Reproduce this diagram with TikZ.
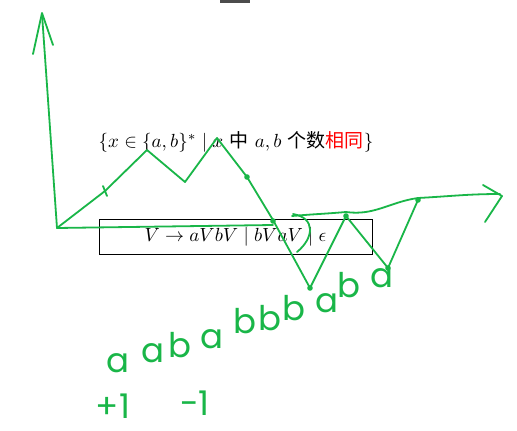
\documentclass[tikz,border=0pt]{standalone}
\usepackage{graphicx}
\usepackage{fontspec}
\newfontfamily\cjk{Noto Sans CJK SC}
\newfontfamily\hand{Poppins}
\definecolor{pen}{RGB}{25,182,72}
\begin{document}
\begin{tikzpicture}[x=1pt,y=-1pt,
  stroke/.style={pen,line width=1.8pt,line cap=round,line join=round},
  handtext/.style={pen,inner sep=0pt,anchor=base,font=\hand\fontsize{34}{34}\selectfont}]
\useasboundingbox[fill=white] (0,0) rectangle (517,431);
\fill[black!70] (220,0) rectangle (250,2.5);
% the language and its grammar
\node (lang) at (236,142) {\scalebox{1.9}{%
  $\{x\in\{a,b\}^*\mid x$ {\cjk 中} $a,b$ {\cjk 个数\textcolor{red}{相同}}$\}$}};
\node[draw,thick,minimum width=273pt,minimum height=35pt,inner sep=0pt] (gram) at (235.5,237)
  {\scalebox{1.9}{$V\to aVbV\mid bVaV\mid\epsilon$}};
% axes
\coordinate (o) at (57,228);
\draw[stroke] (o) -- (42,14);
\draw[stroke] (33,54) -- (42,13) -- (53,45);
\draw[stroke] (o) -- (273,225);
% the walk
\draw[stroke] (o) -- (105,191) -- (147,150) -- (185,182) -- (217,138) -- (247,177)
  -- (273,220) -- (310,288) -- (346,216) -- (388,268) -- (418,200);
\draw[stroke] (103,186) -- (107,196);
\draw[stroke] (293,214) .. controls (316,218) and (314,238) .. (297,252);
\draw[stroke] (292,216) to[out=5,in=185] (346,212) to[out=-8,in=188] (418,198)
  to[out=3,in=180] (500,194);
\draw[stroke] (483,185) -- (502,196) -- (485,222);
\foreach \p in {(247,177),(273,221),(310,288),(346,216),(388,268),(418,200)}
  \fill[pen] \p circle (2.8);
% the word and the steps
\foreach \ch/\x/\y [count=\i] in {a/118/372,a/153/362,b/180/357,a/212/348,b/245/333,
  b/270/330,b/294/320,a/327/312,b/349/297,a/382/287}
  \node[handtext] (w\i) at (\x,\y) {\ch};
\node[handtext] (up) at (113,418) {+1};
\node[handtext] (down) at (195,415) {-1};
\end{tikzpicture}
\end{document}
